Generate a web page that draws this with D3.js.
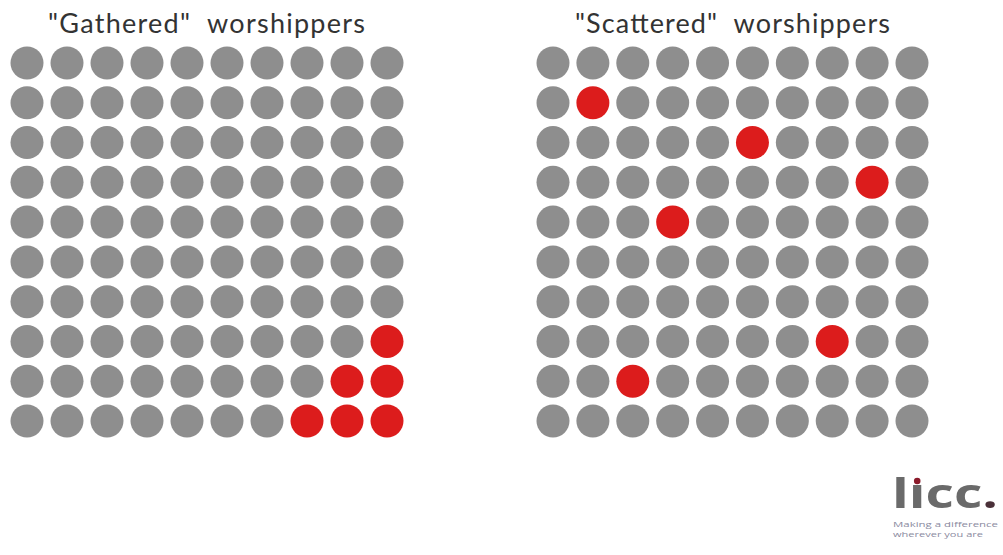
<!DOCTYPE html>
<html><head><meta charset="utf-8">
<script src="https://cdn.jsdelivr.net/npm/d3@7"></script>
<style>body{margin:0;background:#fff;}svg{display:block;}</style>
</head><body>
<svg id="chart" width="1003" height="555"></svg>
<script>
const panels = ["\"Gathered\"  worshippers", "\"Scattered\"  worshippers"];
const rows = [0,1,2,3,4,5,6,7,8,9];
const cols = [0,1,2,3,4,5,6,7,8,9];
// red cells as [row, col]
const gatheredRed = [[7,9],[8,8],[8,9],[9,7],[9,8],[9,9]];
const scatteredRed = [[1,1],[2,5],[3,8],[4,3],[7,7],[8,2]];
const redSets = [gatheredRed, scatteredRed];

const svg = d3.select("#chart");
const grey = "#8e8e8e", red = "#dc1c1c";
const y = d3.scalePoint().domain(rows).range([63, 421]);
const xRanges = [[27, 387], [553, 912]];
const titleSpans = [[48, 365], [575, 890]];

panels.forEach((title, p) => {
  const x = d3.scalePoint().domain(cols).range(xRanges[p]);
  const redKey = new Set(redSets[p].map(d => d[0] + "-" + d[1]));
  const cells = [];
  rows.forEach(r => cols.forEach(c => cells.push({r, c, red: redKey.has(r + "-" + c)})));
  const g = svg.append("g");
  g.selectAll("circle").data(cells).join("circle")
    .attr("cx", d => x(d.c)).attr("cy", d => y(d.r)).attr("r", 16.5)
    .attr("fill", d => d.red ? red : grey);
  g.append("text")
    .attr("x", titleSpans[p][0])
    .attr("y", 33)
    .attr("font-family", "Lato, 'Open Sans', sans-serif")
    .attr("font-size", 27)
    .attr("fill", "#333")
    .attr("textLength", titleSpans[p][1] - titleSpans[p][0])
    .attr("lengthAdjust", "spacing")
    .style("white-space", "pre")
    .text(title);
});

// logo
const logo = svg.append("g");
const lt = logo.append("text").attr("x", 892).attr("y", 508)
  .attr("font-family", "'Open Sans', sans-serif").attr("font-size", 42).attr("font-weight", 700)
  .attr("fill", "#6a6a6a").attr("textLength", 106).attr("lengthAdjust", "spacingAndGlyphs");
lt.append("tspan").text("l\u0131cc");
lt.append("tspan").attr("fill", "#4a3038").text(".");
const ext = lt.node().getExtentOfChar(1);
logo.append("circle").attr("cx", ext.x + ext.width / 2).attr("cy", 481).attr("r", 3.3).attr("fill", "#8a1a2a");
logo.append("text").attr("x", 893).attr("y", 527)
  .attr("font-family", "'Open Sans', sans-serif").attr("font-size", 6.5).attr("fill", "#8a8aa0")
  .attr("textLength", 105).attr("lengthAdjust", "spacingAndGlyphs")
  .text("Making a difference");
logo.append("text").attr("x", 893).attr("y", 537)
  .attr("font-family", "'Open Sans', sans-serif").attr("font-size", 6.5).attr("fill", "#8a8aa0")
  .attr("textLength", 90).attr("lengthAdjust", "spacingAndGlyphs")
  .text("wherever you are");
</script>
</body></html>
